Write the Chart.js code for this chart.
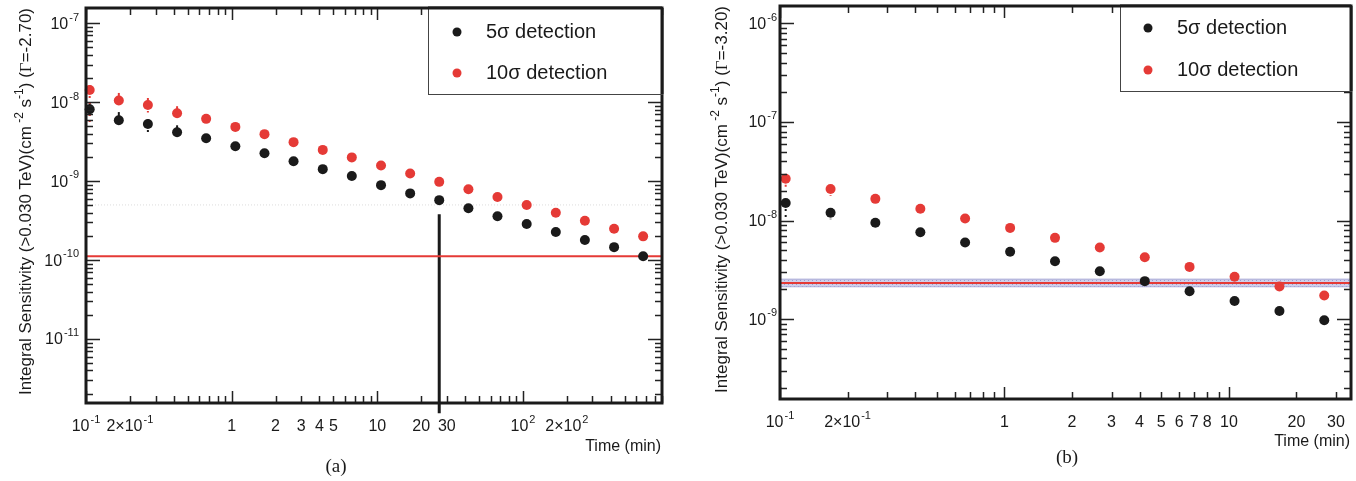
<!DOCTYPE html>
<html>
<head>
<meta charset="utf-8">
<script src="https://cdn.jsdelivr.net/npm/chart.js@4.4.1/dist/chart.umd.min.js"></script>
<style>
html, body { margin: 0; padding: 0; background: #fff; width: 1356px; height: 481px; overflow: hidden; }
.pan { position: absolute; top: 0; height: 481px; }
#wa { left: 0; width: 680px; }
#wb { left: 680px; width: 676px; }
canvas { display: block; }
</style>
</head>
<body>
<div class="pan" id="wa"><canvas id="ca" width="680" height="481"></canvas></div>
<div class="pan" id="wb"><canvas id="cb" width="676" height="481"></canvas></div>
<script>
// observation time (min), same grid for both panels
var timeMin = [0.106, 0.168, 0.266, 0.422, 0.668, 1.06, 1.68, 2.66, 4.22, 6.68,
               10.6, 16.8, 26.6, 42.2, 66.8, 106, 168, 266, 422, 668];

// panel (a), Gamma = -2.70
var sensA5  = [8.15e-9, 5.9e-9, 5.3e-9, 4.17e-9, 3.5e-9, 2.77e-9, 2.26e-9, 1.79e-9, 1.42e-9, 1.16e-9,
               8.9e-10, 7.0e-10, 5.75e-10, 4.55e-10, 3.6e-10, 2.87e-10, 2.27e-10, 1.8e-10, 1.46e-10, 1.12e-10];
var sensA10 = [1.43e-8, 1.05e-8, 9.2e-9, 7.25e-9, 6.15e-9, 4.87e-9, 3.94e-9, 3.12e-9, 2.49e-9, 2.0e-9,
               1.58e-9, 1.25e-9, 9.8e-10, 7.9e-10, 6.3e-10, 5.0e-10, 3.98e-10, 3.16e-10, 2.5e-10, 2.0e-10];
var errA5Hi  = [9.8e-9, 7.5e-9, 6.1e-9, 5.1e-9];
var errA5Lo  = [6.7e-9, null, 4.2e-9, null];
var errA10Hi = [1.65e-8, 1.31e-8, 1.13e-8, 8.9e-9];
var errA10Lo = [5.5e-9, null, 7.4e-9, null];
var refA = 1.12e-10;
var greyA = 5e-10;
var markA = {t: 26.6, top: 3.8e-10, bottom: 1.15e-12};

// panel (b), Gamma = -3.20
var sensB5  = [1.51e-8, 1.2e-8, 9.5e-9, 7.6e-9, 6.0e-9, 4.82e-9, 3.87e-9, 3.06e-9, 2.43e-9, 1.92e-9,
               1.53e-9, 1.21e-9, 9.77e-10];
var sensB10 = [2.65e-8, 2.09e-8, 1.66e-8, 1.32e-8, 1.05e-8, 8.43e-9, 6.68e-9, 5.33e-9, 4.25e-9, 3.39e-9,
               2.69e-9, 2.14e-9, 1.74e-9];
var errB5Lo  = [1.05e-8, 1.03e-8, 8.3e-9];
var errB10Lo = [2.16e-8, 1.79e-8, 1.48e-8];
var refB = 2.33e-9;
var bandB = [2.13e-9, 2.55e-9];

// tick labels
var xTicksA  = [0.1, 0.2, 1, 2, 3, 4, 5, 10, 20, 30, 100, 200];
var xLabelsA = ['10^-1', '2\u00d710^-1', '1', '2', '3', '4', '5', '10', '20', '30', '10^2', '2\u00d710^2'];
var yTicksA  = [1e-7, 1e-8, 1e-9, 1e-10, 1e-11];
var yLabelsA = ['10^-7', '10^-8', '10^-9', '10^-10', '10^-11'];
var xTicksB  = [0.1, 0.2, 1, 2, 3, 4, 5, 6, 7, 8, 10, 20, 30];
var xLabelsB = ['10^-1', '2\u00d710^-1', '1', '2', '3', '4', '5', '6', '7', '8', '10', '20', '30'];
var yTicksB  = [1e-6, 1e-7, 1e-8, 1e-9];
var yLabelsB = ['10^-6', '10^-7', '10^-8', '10^-9'];

var SANS = '"Liberation Sans", Arial, Helvetica, sans-serif';
var SERIF = '"Liberation Serif", "DejaVu Serif", serif';
var BLACK = '#1a1a1a', RED = '#e53a36';

function pts(xs, ys) {
  return ys.map(function (v, i) { return {x: xs[i], y: v}; });
}

// text with one superscript part, "base^sup"
function drawSup(ctx, text, x, y, align, fs) {
  var i = text.indexOf('^');
  var base = i < 0 ? text : text.slice(0, i);
  var sup = i < 0 ? '' : text.slice(i + 1);
  var sfs = Math.round(fs * 0.68);
  ctx.font = fs + 'px ' + SANS;
  var wb = ctx.measureText(base).width;
  ctx.font = sfs + 'px ' + SANS;
  var ws = sup ? ctx.measureText(sup).width + 1 : 0;
  var x0 = align === 'center' ? x - (wb + ws) / 2 : (align === 'right' ? x - wb - ws : x);
  ctx.textAlign = 'left';
  ctx.textBaseline = 'middle';
  ctx.font = fs + 'px ' + SANS;
  ctx.fillText(base, x0, y);
  if (sup) {
    ctx.font = sfs + 'px ' + SANS;
    ctx.fillText(sup, x0 + wb + 1, y - fs * 0.42);
  }
}

// rotated axis title with superscripts
function drawYTitle(ctx, gamma, x, yEnd, fs) {
  var sfs = Math.round(fs * 0.7);
  var segs = [
    ['Integral Sensitivity (>0.030 TeV)(cm', fs, SANS, 0],
    [' -2', sfs, SANS, -fs * 0.45],
    [' s', fs, SANS, 0],
    ['-1', sfs, SANS, -fs * 0.45],
    [') (', fs, SANS, 0],
    ['\u0393', fs, SERIF, 0],
    ['=' + gamma + ')', fs, SANS, 0]
  ];
  var total = 0;
  segs.forEach(function (s) { ctx.font = s[1] + 'px ' + s[2]; s.push(ctx.measureText(s[0]).width); total += s[4]; });
  ctx.save();
  ctx.translate(x, yEnd + total);
  ctx.rotate(-Math.PI / 2);
  ctx.textAlign = 'left';
  ctx.textBaseline = 'alphabetic';
  var cx = 0;
  segs.forEach(function (s) {
    ctx.font = s[1] + 'px ' + s[2];
    ctx.fillText(s[0], cx, s[3]);
    cx += s[4];
  });
  ctx.restore();
}

function logTicks(ctx, sc, area, axis, majorLen, minorLen) {
  var lo = Math.floor(Math.log10(sc.min)), hi = Math.ceil(Math.log10(sc.max));
  ctx.beginPath();
  for (var d = lo; d <= hi; d++) {
    for (var m = 1; m <= 9; m++) {
      var v = m * Math.pow(10, d);
      if (v < sc.min || v > sc.max) continue;
      var p = Math.round(sc.getPixelForValue(v)) + 0.5;
      var len = m === 1 ? majorLen : minorLen;
      if (axis === 'x') {
        ctx.moveTo(p, area.bottom); ctx.lineTo(p, area.bottom - len);
        ctx.moveTo(p, area.top); ctx.lineTo(p, area.top + len);
      } else {
        ctx.moveTo(area.left, p); ctx.lineTo(area.left + len, p);
        ctx.moveTo(area.right, p); ctx.lineTo(area.right - len, p);
      }
    }
  }
  ctx.stroke();
}

// per-canvas frame settings (ticks, titles, legend, caption)
var frames = {};

var rootFrame = {
  id: 'rootFrame',
  beforeDatasetsDraw: function (chart) {
    var o = frames[chart.canvas.id];
    var ctx = chart.ctx, xs = chart.scales.x, ys = chart.scales.y;
    ctx.save();
    ctx.lineWidth = 2;
    o.errors.forEach(function (e) {
      ctx.strokeStyle = e.color;
      e.hi.forEach(function (v, i) {
        if (v == null) return;
        var px = xs.getPixelForValue(timeMin[i]);
        ctx.setLineDash([]);
        ctx.beginPath();
        ctx.moveTo(px, ys.getPixelForValue(e.val[i]));
        ctx.lineTo(px, ys.getPixelForValue(v));
        ctx.stroke();
      });
      e.lo.forEach(function (v, i) {
        if (v == null) return;
        var px = xs.getPixelForValue(timeMin[i]);
        ctx.setLineDash([2, 4]);
        ctx.beginPath();
        ctx.moveTo(px, ys.getPixelForValue(e.val[i]));
        ctx.lineTo(px, ys.getPixelForValue(v));
        ctx.stroke();
      });
    });
    ctx.restore();
  },
  afterDraw: function (chart) {
    var o = frames[chart.canvas.id];
    var ctx = chart.ctx, a = chart.chartArea, xs = chart.scales.x, ys = chart.scales.y;
    ctx.save();
    ctx.fillStyle = '#1a1a1a';
    ctx.strokeStyle = '#222';
    ctx.lineWidth = 1.5;
    logTicks(ctx, xs, a, 'x', 12, 7);
    logTicks(ctx, ys, a, 'y', 14, 7);
    ctx.lineWidth = 3;
    ctx.strokeStyle = '#1a1a1a';
    ctx.strokeRect(a.left, a.top, a.right - a.left, a.bottom - a.top);

    // tick labels
    ctx.fillStyle = '#1a1a1a';
    o.xTicks.forEach(function (v, i) {
      drawSup(ctx, o.xLabels[i], xs.getPixelForValue(v), a.bottom + 24, 'center', 16);
    });
    o.yTicks.forEach(function (v, i) {
      drawSup(ctx, o.yLabels[i], a.left - o.yGap, ys.getPixelForValue(v) + 1, 'right', 16);
    });

    // axis titles
    ctx.font = '16px ' + SANS;
    ctx.textAlign = 'right';
    ctx.textBaseline = 'middle';
    ctx.fillText('Time (min)', a.right - 1, a.bottom + o.xTitleDy);
    drawYTitle(ctx, o.gamma, o.yTitleX, a.top, 17);

    // legend box
    var L = o.legend;
    var bx = a.right - L.w;
    ctx.fillStyle = '#fff';
    ctx.fillRect(bx, a.top, L.w, L.h);
    ctx.lineWidth = 1;
    ctx.strokeStyle = '#444';
    ctx.strokeRect(bx + 0.5, a.top + 0.5, L.w, L.h);
    [0, 1].forEach(function (k) {
      var ds = chart.data.datasets[k];
      var yy = a.top + L.rows[k];
      ctx.fillStyle = ds.backgroundColor;
      ctx.beginPath();
      ctx.arc(bx + L.dot, yy, 4.5, 0, Math.PI * 2);
      ctx.fill();
      ctx.fillStyle = '#1a1a1a';
      ctx.font = '20px ' + SANS;
      ctx.textAlign = 'left';
      ctx.textBaseline = 'middle';
      ctx.fillText(ds.label, bx + L.text, yy);
    });
    ctx.lineWidth = 3;
    ctx.strokeStyle = '#1a1a1a';
    ctx.beginPath();
    ctx.moveTo(a.right, a.top); ctx.lineTo(bx, a.top);
    ctx.moveTo(a.right, a.top); ctx.lineTo(a.right, a.top + L.h);
    ctx.stroke();

    // caption
    ctx.fillStyle = '#1a1a1a';
    ctx.font = '19px ' + SERIF;
    ctx.textAlign = 'center';
    ctx.textBaseline = 'middle';
    ctx.fillText(o.caption, o.capX, o.capY);
    ctx.restore();
  }
};

function scatterSet(label, color, xs, ys) {
  return {type: 'scatter', label: label, data: pts(xs, ys), backgroundColor: color, borderColor: color,
          pointRadius: 5, pointBorderWidth: 0, clip: false};
}
function hLine(y, xmin, xmax, color, width, dash) {
  return {type: 'line', label: '', data: [{x: xmin, y: y}, {x: xmax, y: y}], borderColor: color,
          borderWidth: width, borderDash: dash || [], pointRadius: 0, fill: false};
}

function baseOptions(pad, xr, yr) {
  return {
    responsive: false, animation: false, devicePixelRatio: 1, events: [],
    layout: {padding: pad},
    plugins: {legend: {display: false}, tooltip: {enabled: false}},
    scales: {
      x: {type: 'logarithmic', min: xr[0], max: xr[1], display: false},
      y: {type: 'logarithmic', min: yr[0], max: yr[1], display: false}
    }
  };
}

// panel (a)
var xRangeA = [0.1, 900], yRangeA = [1.55e-12, 1.56e-7];
frames.ca = {
  xTicks: xTicksA, xLabels: xLabelsA, yTicks: yTicksA, yLabels: yLabelsA, yGap: 7,
  xTitleDy: 44, gamma: '-2.70', yTitleX: 31,
  legend: {w: 234, h: 86, dot: 29, text: 58, rows: [24, 65]},
  caption: '(a)', capX: 336, capY: 467,
  errors: [
    {color: BLACK, val: sensA5, hi: errA5Hi, lo: errA5Lo},
    {color: RED, val: sensA10, hi: errA10Hi, lo: errA10Lo}
  ]
};
new Chart(document.getElementById('ca'), {
  type: 'scatter',
  data: {datasets: [
    scatterSet('5\u03c3 detection', BLACK, timeMin, sensA5),
    scatterSet('10\u03c3 detection', RED, timeMin, sensA10),
    hLine(refA, xRangeA[0], xRangeA[1], RED, 2),
    hLine(greyA, xRangeA[0], xRangeA[1], '#dcdcdc', 1, [1, 2]),
    {type: 'line', label: '', data: [{x: markA.t, y: markA.top}, {x: markA.t, y: markA.bottom}],
     borderColor: BLACK, borderWidth: 3, pointRadius: 0, clip: false}
  ]},
  options: baseOptions({left: 86, top: 8, right: 18, bottom: 78}, xRangeA, yRangeA),
  plugins: [rootFrame]
});

// panel (b)
var xRangeB = [0.1, 35], yRangeB = [1.55e-10, 1.5e-6];
var hatchSrc = document.createElement('canvas');
hatchSrc.width = 4; hatchSrc.height = 4;
var hg = hatchSrc.getContext('2d');
hg.fillStyle = '#cfd0ea'; hg.fillRect(0, 0, 4, 4);
hg.fillStyle = '#9a9cd0'; hg.fillRect(0, 0, 1, 1); hg.fillRect(2, 2, 1, 1);
var hatch = document.getElementById('cb').getContext('2d').createPattern(hatchSrc, 'repeat');

frames.cb = {
  xTicks: xTicksB, xLabels: xLabelsB, yTicks: yTicksB, yLabels: yLabelsB, yGap: 3,
  xTitleDy: 43, gamma: '-3.20', yTitleX: 47,
  legend: {w: 231, h: 85, dot: 28, text: 57, rows: [22, 64]},
  caption: '(b)', capX: 387, capY: 458,
  errors: [
    {color: BLACK, val: sensB5, hi: [], lo: errB5Lo},
    {color: RED, val: sensB10, hi: [], lo: errB10Lo}
  ]
};
new Chart(document.getElementById('cb'), {
  type: 'scatter',
  data: {datasets: [
    scatterSet('5\u03c3 detection', BLACK, timeMin, sensB5),
    scatterSet('10\u03c3 detection', RED, timeMin, sensB10),
    hLine(refB, xRangeB[0], xRangeB[1], RED, 2),
    hLine(bandB[1], xRangeB[0], xRangeB[1], 'rgba(140,140,200,0.6)', 1),
    Object.assign(hLine(bandB[0], xRangeB[0], xRangeB[1], 'rgba(140,140,200,0.6)', 1),
                  {fill: '-1', backgroundColor: hatch})
  ]},
  options: baseOptions({left: 100, top: 6, right: 3, bottom: 82}, xRangeB, yRangeB),
  plugins: [rootFrame]
});
</script>
</body>
</html>
